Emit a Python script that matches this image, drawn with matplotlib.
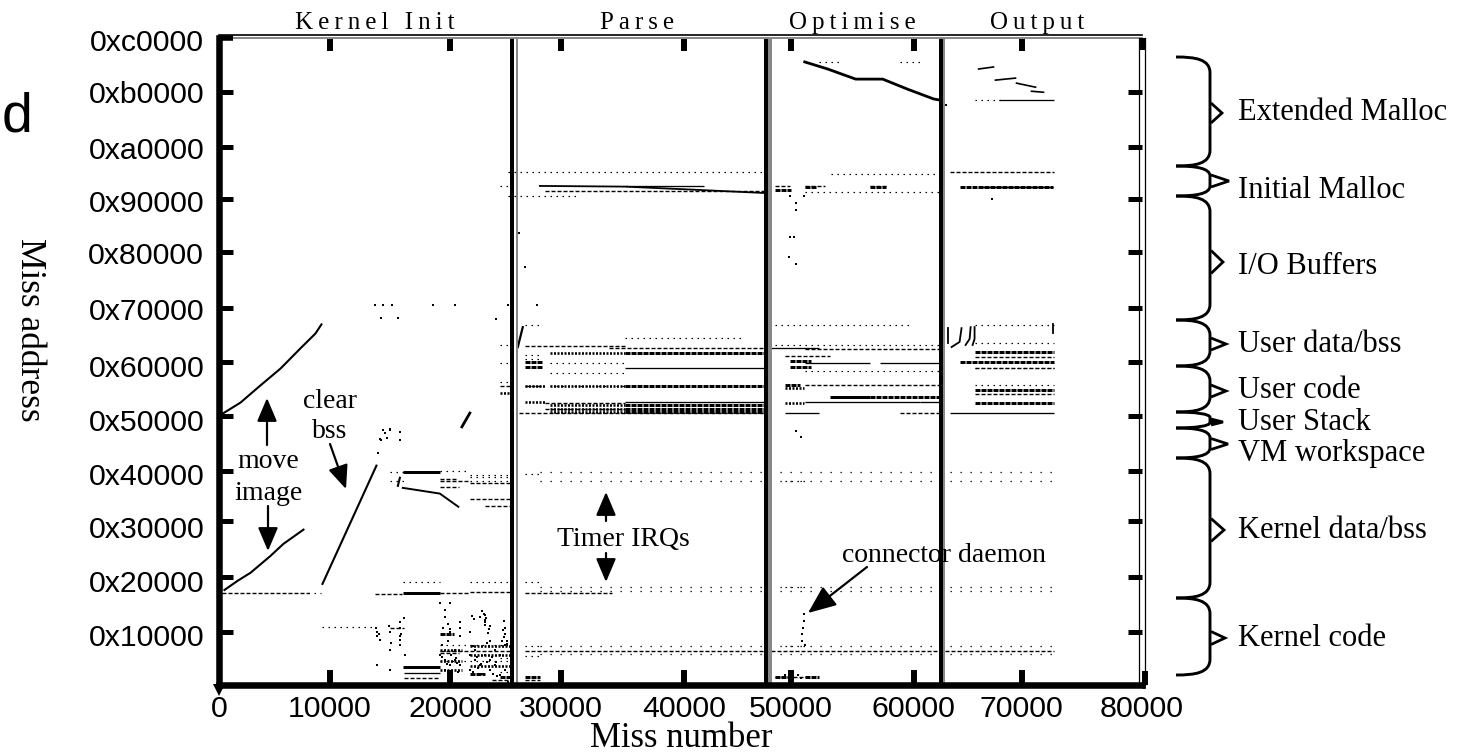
import matplotlib
matplotlib.use('Agg')
import matplotlib.pyplot as plt
from matplotlib.patches import PathPatch, FancyArrowPatch, Polygon
from matplotlib.path import Path
from matplotlib.transforms import Affine2D, ScaledTranslation

plt.rcParams['lines.scale_dashes'] = False
SANS = 'Liberation Sans'
SERIF = 'Liberation Serif'

# y values are in 4K pages, so 16 pages = 0x10000
# the labels and marks of the original are hand placed and not quite even
x_labels = ['0', '10000', '20000', '30000', '40000', '50000', '60000', '70000', '80000']
x_label_pos = [0, 9580, 19980, 29600, 40260, 49530, 60200, 69560, 80000]
y_labels = ['0x10000', '0x20000', '0x30000', '0x40000', '0x50000', '0x60000',
            '0x70000', '0x80000', '0x90000', '0xa0000', '0xb0000', '0xc0000']
y_label_pos = [14.5, 30.6, 46.6, 62.3, 78.3, 94.4, 111.3, 127.9, 143.3, 159.1, 175.7, 191.1]
x_marks = [9580, 19980, 29600, 40260, 49530, 60200, 69560]
y_marks = [15.7, 32.0, 48.7, 63.5, 79.8, 95.8, 111.9, 128.5, 144.2, 159.6, 176.0]

phase_black = [25370, 47410, 62570]
phase_gray = [25800, 47750, 62830]
phase_names = ['Kernel Init', 'Parse', 'Optimise', 'Output']

# move image / clear bss
image_hi_x = [260, 1820, 3550, 5290, 7020, 8320, 8840]
image_hi_y = [80.5, 83.8, 88.9, 93.9, 99.9, 104.3, 107.0]
image_lo_x = [430, 1560, 2690, 4420, 5550, 7280]
image_lo_y = [28.2, 30.9, 33.3, 38.3, 41.9, 46.1]
bss_x = [8930, 13610]
bss_y = [30.0, 65.1]

# kernel curves
curve_x = [15900, 17420, 19110, 20710]
curve_y = [58.5, 57.7, 56.8, 52.9]
drop_x = [15640, 15470]
drop_y = [61.5, 59.1]
diag_x = [21020, 21710]
diag_y = [76.6, 80.7]

# allocators
ext_x = [50750, 52740, 55170, 57510, 59680, 61940, 62450]
ext_y = [184.9, 182.8, 179.8, 179.8, 176.8, 173.9, 173.6]
ext_out_x = [[65830, 67120], [67290, 69030], [69120, 70770], [70420, 71460]]
ext_out_y = [[182.8, 183.4], [179.5, 180.1], [178.6, 177.4], [176.2, 175.9]]
init_x = [27780, 35140, 41000, 47280]
init_y = [148.1, 147.9, 147.0, 146.0]
user_rise_x = [25870, 26300]
user_rise_y = [100.3, 106.2]

# output phase ramps
ramp_x = [[63140, 63140], [63490, 64180, 64350], [64700, 65050, 65140],
          [65310, 65480, 65480], [72320, 72320]]
ramp_y = [[101.5, 105.9], [100.3, 101.8, 105.9], [100.9, 102.7, 106.2],
          [100.9, 102.7, 106.2], [104.5, 107.1]]

# (start, end, page) runs
kernel_runs = [(15900, 19110, 63.2), (15900, 19110, 27.3), (15900, 19110, 5.3), (52910, 56380, 85.6)]
heavy_runs = [
    (35140, 47280, 98.5), (35140, 47280, 88.7), (35140, 47280, 83.0),
    (35140, 47280, 81.9), (35140, 47280, 80.9),
    (56380, 62450, 85.6), (49010, 50320, 88.9),
    (65480, 72410, 98.9), (64180, 72410, 95.8), (65480, 72410, 87.5),
    (65480, 72410, 83.7), (64180, 72300, 147.8), (48150, 49600, 147.0), (50750, 51800, 147.8),
    (56380, 57800, 147.8), (48150, 49600, 2.4), (24310, 25300, 2.4), (26480, 27780, 2.4),
    (50750, 52000, 2.4), (26500, 28000, 96.0), (26500, 28000, 94.5), (49500, 51300, 96.2),
    (49500, 51300, 94.4), (21700, 23000, 3.2), (19110, 20300, 15.0),
]
comb_runs = [
    (28640, 35140, 98.5), (28640, 35140, 88.7), (28640, 35140, 83.0), (28640, 35140, 81.9),
    (28640, 35140, 80.9), (26500, 28300, 84.0), (26500, 28300, 88.8), (24310, 25300, 86.6),
    (49010, 50700, 83.7), (49010, 50700, 88.0), (19110, 21000, 10.5), (21700, 25200, 11.5),
    (21700, 25200, 9.0), (19110, 21000, 7.0), (19110, 21000, 4.5), (21700, 25200, 5.5),
]
solid_runs = [
    (35140, 47280, 94.1), (35140, 47280, 84.0), (35140, 42000, 148.1),
    (50750, 56380, 95.5), (57250, 62450, 95.5), (66000, 72300, 147.8),
    (67640, 72410, 173.7), (50750, 60710, 84.0), (60710, 62450, 84.0), (63320, 72410, 80.7),
    (49010, 52000, 80.7), (16000, 19110, 3.6), (47280, 52000, 100.0),
]
dash_runs = [
    (260, 7800, 27.3), (28210, 35140, 83.8), (28210, 35140, 82.0),
    (26480, 35140, 100.6), (33800, 47280, 100.0), (24310, 25300, 88.7), (26480, 28000, 88.7),
    (26000, 47280, 80.7), (65480, 72410, 97.2), (65480, 72410, 94.0),
    (65480, 72410, 86.4), (50750, 62450, 99.8), (49010, 52900, 97.5),
    (63320, 72410, 152.2), (50750, 62450, 88.9), (58980, 62450, 80.7),
    (13480, 15800, 27.0), (19110, 21700, 27.3), (21700, 25300, 27.5),
    (19110, 20800, 9.5), (19110, 25300, 10.1), (26480, 72400, 10.1), (19110, 20800, 58.9),
    (21700, 25300, 59.8), (23000, 25300, 53.1), (23600, 25300, 1.5),
    (16000, 19000, 2.2), (26480, 27780, 1.5), (48200, 51000, 2.4),
    (28210, 47280, 146.7), (26480, 34000, 27.3), (14780, 16000, 17.0),
    (50750, 52500, 148.0), (56380, 58000, 148.0), (48150, 49500, 148.0),
    (19110, 21700, 60.6), (21700, 25300, 55.2), (19110, 20600, 61.0),
]
dot_runs = [
    (8930, 13610, 17.2), (7700, 8800, 27.3), (25000, 47280, 152.2), (25000, 31000, 145.1),
    (28640, 35140, 95.5), (28640, 35140, 92.6), (28640, 35140, 88.7),
    (35140, 45540, 103.0), (26480, 28000, 106.8), (48150, 60000, 106.8),
    (48150, 62450, 101.0), (65480, 72410, 106.8), (65480, 72410, 101.5),
    (65480, 72410, 94.1), (65480, 72410, 89.0), (50750, 62450, 93.2),
    (50750, 62450, 146.2), (53000, 62450, 151.5), (52000, 54000, 185.0),
    (59000, 61000, 185.0), (65480, 68000, 173.7), (14780, 16100, 60.5),
    (14780, 16100, 63.2), (19110, 21700, 63.4), (21700, 25300, 62.3),
    (21700, 25300, 60.5), (24310, 25300, 95.5), (24310, 25300, 100.9), (24310, 25300, 89.8),
    (15900, 19110, 30.7), (21700, 25300, 30.7), (19110, 25300, 12.0),
    (19110, 25300, 7.0), (26480, 28000, 30.7), (26480, 28000, 62.5),
    (26480, 28000, 11.5), (49010, 51000, 60.5), (49010, 51000, 29.0), (49010, 51000, 11.5),
    (21700, 25300, 61.8), (24310, 25300, 4.0), (24310, 25300, 8.0), (26480, 28000, 8.5),
    (24310, 25300, 148.1), (26480, 28000, 98.0), (26480, 28000, 96.8),
]
timer_runs = [
    (27780, 72400, 63.2), (27780, 72400, 60.5), (27780, 72400, 29.1), (27780, 72400, 27.9),
    (27780, 72400, 11.6), (27780, 72400, 9.3),
]

# scattered misses in kernel code, boot and the phase boundaries
speck_x = [13650, 13650, 13650, 13910, 14780, 14780, 14780, 15640, 15640, 15640, 15640, 15640,
           16080, 19110, 19110, 19540, 19540, 19540, 19980, 19980, 19980, 20410, 20410, 20840,
           20840, 20840, 20840, 21710, 21710, 21710, 22140, 22140, 22580, 22580, 23010, 23010,
           23010, 23440, 23440, 23880, 23880, 24310, 24310, 24740, 24740, 24740, 19540, 19980,
           23010, 23440, 14000, 14170, 14520, 14780, 15640, 15640, 13780, 13950, 14390, 14820,
           13500, 14200, 15000, 18500, 20400, 25000, 14000, 15500, 24000, 26000, 26500, 27500,
           49000, 49500, 50200, 50400, 50500, 50600, 50650, 50700, 50500, 50800, 50000, 50400,
           49500, 49400, 50000, 49800, 50000, 49500, 50000, 50700, 67000, 62700, 62800, 63000,
           19300, 19700, 20100, 20500, 20700, 22000, 22300, 22700, 23200, 23600, 24000, 24500,
           19300, 19800, 20200, 20600, 22000, 22400, 22800, 23200, 23700, 24100, 24600, 25000,
           22900, 23100, 22800, 23000, 24700, 24800, 24900, 24600, 24700, 24900, 16000, 15700,
           14700, 14900, 13800, 13600, 19800, 20000, 19400, 21900, 22100, 23400, 23300, 23500]
speck_y = [15.7, 14.5, 5.9, 13.4, 15.7, 10.4, 4.5, 18.7, 16.9, 14.5, 13.4, 11.9,
           8.9, 24.3, 8.9, 20.2, 7.4, 4.5, 15.7, 5.9, 3.0, 10.4, 7.4, 18.7,
           16.9, 14.5, 5.9, 15.7, 8.9, 4.5, 10.4, 7.4, 20.2, 5.9, 18.7, 19.4,
           8.9, 7.4, 4.5, 10.4, 5.9, 8.9, 3.0, 16.9, 11.9, 4.5, 22.3, 24.3,
           20.7, 17.5, 72.7, 75.7, 73.3, 75.7, 72.7, 75.0, 68.7, 73.1, 74.9, 76.0,
           112.8, 112.8, 112.8, 112.8, 112.8, 112.8, 108.9, 108.9, 108.7, 134.0, 124.0, 112.8,
           3.0, 3.0, 3.0, 2.0, 15.0, 17.0, 19.0, 21.0, 13.0, 12.0, 75.5, 73.5,
           132.8, 127.0, 125.0, 132.8, 141.0, 145.0, 143.0, 145.0, 144.2, 165.0, 168.0, 172.0,
           8.2, 6.2, 9.0, 8.0, 4.0, 11.6, 8.4, 6.2, 12.6, 8.2, 6.8, 13.0,
           12.0, 13.0, 3.8, 6.5, 3.9, 5.0, 3.4, 6.7, 3.2, 2.8, 2.0, 1.0,
           21.0, 19.8, 22.0, 17.9, 19.0, 15.0, 13.0, 16.2, 14.2, 12.2, 20.0, 15.0,
           17.5, 12.5, 15.0, 17.0, 18.0, 16.5, 17.0, 20.5, 19.5, 16.5, 15.5, 13.0]

# brace spans and tips, and the text beside each of them
bracket_names = ['Extended Malloc', 'Initial Malloc', 'I/O Buffers', 'User data/bss', 'User code',
                 'User Stack', 'VM workspace', 'Kernel data/bss', 'Kernel code']
bracket_top = [57, 166, 196, 320, 366, 412, 428, 458, 598]
bracket_bot = [166, 196, 320, 366, 412, 428, 458, 598, 675]
bracket_tip = [113, 181, 262, 344, 391, 422, 444, 530, 638]
tip_len = [11, 18, 12, 15, 15, 12, 17, 13, 14]
tip_half = [10, 6, 11.5, 6, 6, 3, 5.5, 11.5, 6.5]
bracket_text_y = [110, 187, 263, 342, 388, 419, 450, 527, 635]

fig = plt.figure(figsize=(14.74, 7.55), dpi=100)
ax = fig.add_axes([219.5 / 1474, 1 - 685 / 755, (1142 - 219.5) / 1474, (685 - 38) / 755])
ax.set_xlim(0, 80000)
ax.set_ylim(0, 192)
# pixel coordinates of the figure, y going down, for all the notes
pix = Affine2D().scale(1 / 1474, -1 / 755).translate(0, 1) + fig.transFigure


def draw_runs(runs, lw_px, dash=None, color='k'):
    x0s, x1s, ys = zip(*runs)
    style = 'solid' if dash is None else (0, (dash[0] * 0.72, dash[1] * 0.72))
    ax.hlines(ys, x0s, x1s, colors=color, linewidth=lw_px * 0.72, linestyles=style, capstyle='butt')


draw_runs(timer_runs, 1.3, (1.3, 8.7))
draw_runs(dot_runs, 1.2, (1.5, 4.5))
draw_runs(dash_runs, 1.4, (4, 2))
draw_runs(solid_runs, 1.3)
draw_runs(comb_runs, 2.6, (2, 1.5))
draw_runs(heavy_runs, 3, (5, 1))
draw_runs(kernel_runs, 3)
ax.scatter(speck_x, speck_y, s=3.5, c='k', marker='s', linewidths=0)

for xs, ys, lw in [(image_hi_x, image_hi_y, 1.5), (image_lo_x, image_lo_y, 1.5), (bss_x, bss_y, 1.5),
                   (curve_x, curve_y, 1.4), (drop_x, drop_y, 1.5), (diag_x, diag_y, 2),
                   (ext_x, ext_y, 2), (init_x, init_y, 1.3), (user_rise_x, user_rise_y, 1.6)]:
    ax.plot(xs, ys, color='k', lw=lw)
for xs, ys in zip(ext_out_x, ext_out_y):
    ax.plot(xs, ys, color='k', lw=1.2)
for xs, ys in zip(ramp_x, ramp_y):
    ax.plot(xs, ys, color='k', lw=1.3)

for x, w in zip(phase_gray, [2, 4, 2]):
    ax.axvline(x, color='#888888', lw=w * 0.72)
for x in phase_black:
    ax.axvline(x, color='k', lw=4 * 0.72)

# frame
for side in ['top', 'right']:
    ax.spines[side].set_visible(False)
for side in ['left', 'bottom']:
    ax.spines[side].set_linewidth(4.7)
ax.axhline(192.9, color='k', lw=1.2, clip_on=False)
ax.axhline(192, color='#888888', lw=1.4, clip_on=False)
ax.axvline(79760, color='k', lw=0.9, clip_on=False)
ax.axvline(80240, color='k', lw=0.9, clip_on=False)
ax.plot([80000, 80300], [0, 0], color='k', lw=4.7, clip_on=False, solid_capstyle='butt')
ax.plot([80260, 80260], [0, 4.2], color='k', lw=4.3, clip_on=False, solid_capstyle='butt')
ax.plot([80100, 80100], [188.3, 192], color='k', lw=4.3, clip_on=False, solid_capstyle='butt')
ax.plot([0, 1200], [192, 192], color='k', lw=4.0, clip_on=False, solid_capstyle='butt')
ax.plot([0], [-1.6], marker='v', ms=9, color='k', mew=0, clip_on=False)

ax.set_xticks(x_label_pos)
ax.set_xticklabels(x_labels, fontfamily=SANS, fontsize=21.8)
ax.set_yticks(y_label_pos)
ax.set_yticklabels(y_labels, fontfamily=SANS, fontsize=21.8, va='center')
ax.tick_params(axis='both', which='major', length=0)
ax.tick_params(axis='x', which='major', pad=7.5)
ax.tick_params(axis='y', which='major', pad=11)
ax.set_yticks(y_marks, minor=True)
ax.tick_params(axis='y', which='minor', direction='in', length=10.4, width=3.6, left=True, right=True)
# x marks sit under the labels, minor ticks there would be dropped as overlaps
ax.vlines(x_marks, 0, 4.4, colors='k', linewidth=4.3, zorder=5)
ax.vlines(x_marks, 188.2, 191.6, colors='k', linewidth=4.3, zorder=5)
shift = ScaledTranslation(0, -2 / 100, fig.dpi_scale_trans)
for lab in ax.get_yticklabels():
    lab.set_transform(lab.get_transform() + shift)


def note(x, y, s, size=20, family=SERIF, **kw):
    kw.setdefault('ha', 'center')
    kw.setdefault('va', 'center')
    return fig.text(x, y, s, transform=pix, fontsize=size, fontfamily=family, **kw)


def arrow(start, tip, head=20, half=8.5):
    fig.add_artist(FancyArrowPatch(
        start, tip, transform=pix, shrinkA=0, shrinkB=0, color='k', lw=2.2 * 0.72,
        mutation_scale=1, arrowstyle=f'-|>,head_length={head * 0.72},head_width={half * 0.72}'))


note(17, 118, 'd', size=40, family=SANS)
note(29, 330, 'Miss address', size=25.5, rotation=270)
note(681, 754.8, 'Miss number', size=25, va='bottom')

# section names are spaced out letter by letter
for name, cx in zip(phase_names, [375, 637, 852, 1037]):
    note(cx, 23, '\u2009'.join(name), size=18)

note(268, 461, 'move')
note(268, 493, 'image')
note(330, 402, 'clear')
note(330, 432, 'bss')
note(623, 539, 'Timer IRQs')
note(944, 556, 'connector daemon')
arrow((267, 445), (267, 398))
arrow((268, 506), (268, 551))
arrow((330, 444), (346, 489))
arrow((606, 521), (606, 492))
arrow((606, 553), (606, 582))
arrow((867, 567), (808, 613), head=24, half=10)

for name, top, bot, tip, tl, th, ty in zip(bracket_names, bracket_top, bracket_bot, bracket_tip,
                                           tip_len, tip_half, bracket_text_y):
    r = min(16, (bot - top) / 3)
    verts = [(1176, top), (1195, top), (1210, top + 2), (1210, top + r),
             (1210, bot - r), (1210, bot - 2), (1195, bot), (1176, bot)]
    codes = [Path.MOVETO, Path.CURVE4, Path.CURVE4, Path.CURVE4, Path.LINETO,
             Path.CURVE4, Path.CURVE4, Path.CURVE4]
    fig.add_artist(PathPatch(Path(verts, codes), transform=pix, fill=False, ec='k', lw=2.1))
    fig.add_artist(Polygon([(1211, tip - th), (1211 + tl, tip), (1211, tip + th)], closed=False,
                           fill=name == 'User Stack', fc='k', ec='k', lw=2.0, transform=pix))
    note(1238, ty + 3, name, size=22, ha='left')

fig.savefig('out.png', dpi=100)
